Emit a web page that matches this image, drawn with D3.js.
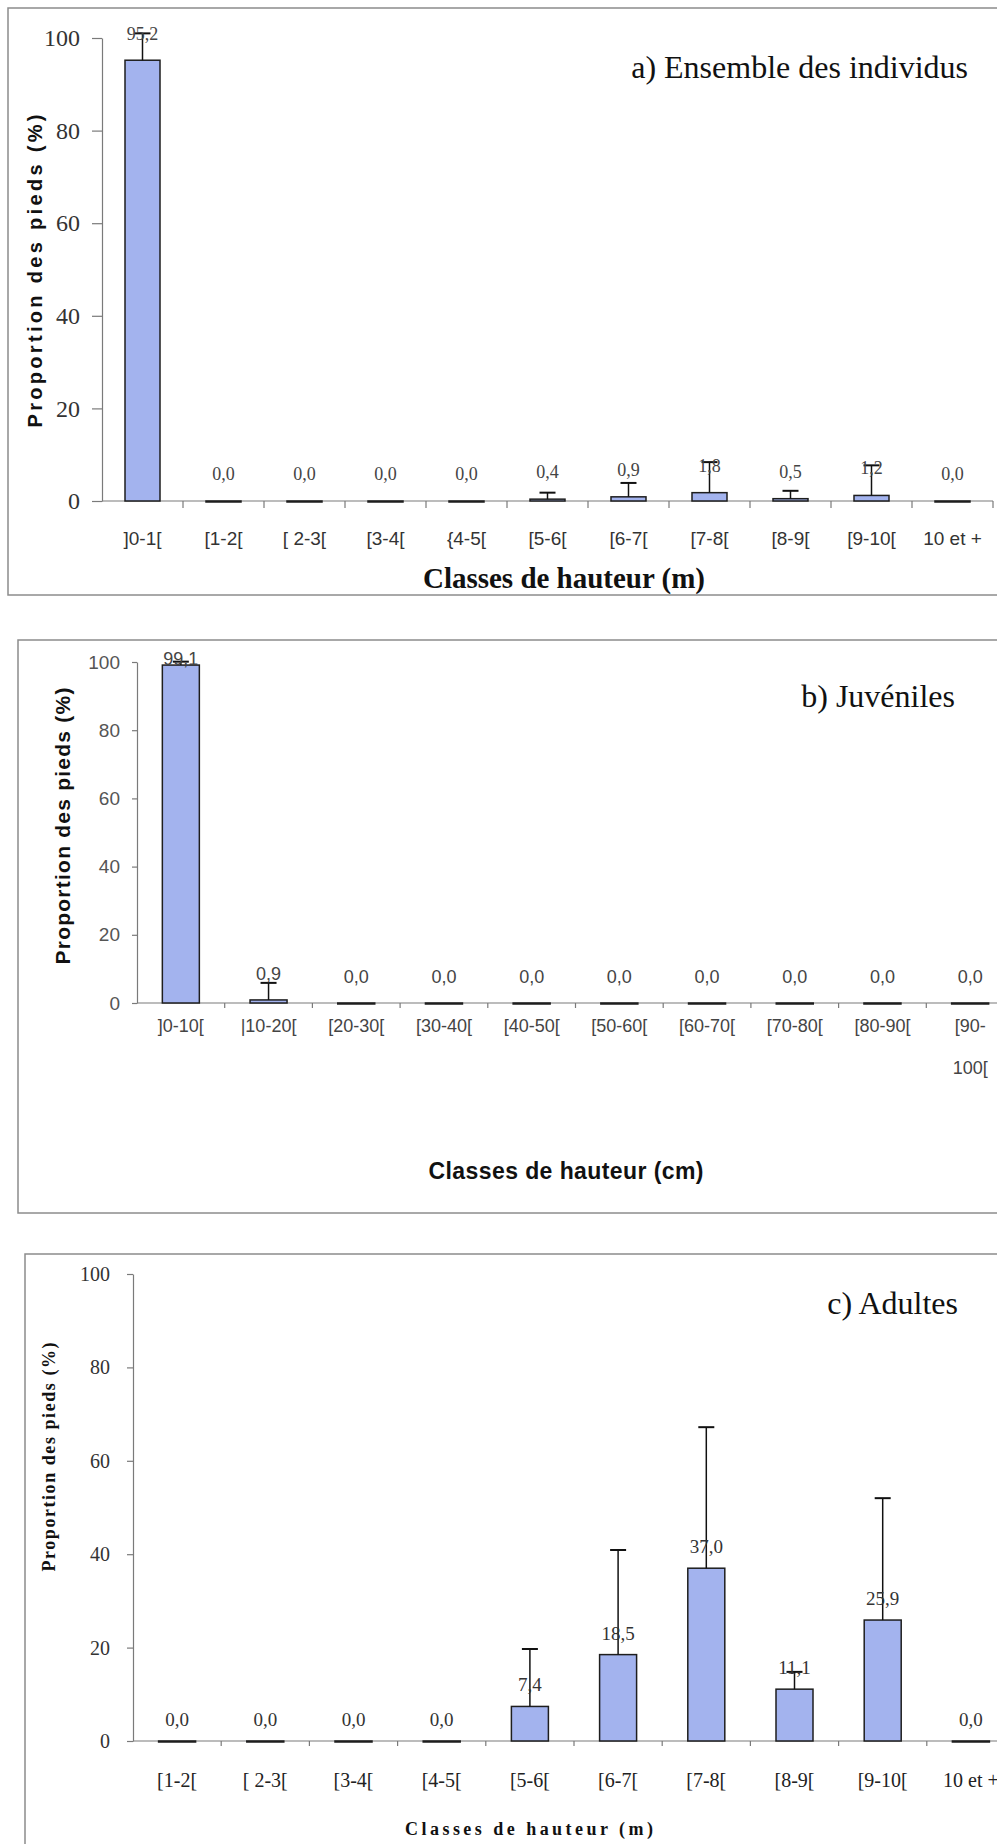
<!DOCTYPE html>
<html>
<head>
<meta charset="utf-8">
<title>Proportion des pieds par classes de hauteur</title>
<script src="https://d3js.org/d3.v7.min.js"></script>
<style>
  body { margin: 0; background: #fff; }
  svg { display: block; }
</style>
</head>
<body>
<div id="chart"></div>
<script>

// a) Ensemble des individus (m)
var classesA = ["]0-1[", "[1-2[", "[ 2-3[", "[3-4[", "{4-5[", "[5-6[", "[6-7[", "[7-8[", "[8-9[", "[9-10[", "10 et +"];
var valeursA = [95.2, 0, 0, 0, 0, 0.4, 0.9, 1.8, 0.5, 1.2, 0];
var erreursA = [5.8, 0, 0, 0, 0, 1.4, 3.0, 6.6, 1.7, 6.5, 0];

// b) Juveniles (cm)
var classesB = ["]0-10[", "|10-20[", "[20-30[", "[30-40[", "[40-50[", "[50-60[", "[60-70[", "[70-80[", "[80-90[", "[90-\n100["];
var valeursB = [99.1, 0.9, 0, 0, 0, 0, 0, 0, 0, 0];
var erreursB = [1.0, 5.0, 0, 0, 0, 0, 0, 0, 0, 0];

// c) Adultes (m)
var classesC = ["[1-2[", "[ 2-3[", "[3-4[", "[4-5[", "[5-6[", "[6-7[", "[7-8[", "[8-9[", "[9-10[", "10 et +"];
var valeursC = [0, 0, 0, 0, 7.4, 18.5, 37.0, 11.1, 25.9, 0];
var erreursC = [0, 0, 0, 0, 12.3, 22.4, 30.2, 3.7, 26.1, 0];

var yTicks = [0, 20, 40, 60, 80, 100];

var SERIF = "'Liberation Serif', 'DejaVu Serif', serif";
var SANS = "'Liberation Sans', Arial, sans-serif";

var svg = d3.select("#chart").append("svg")
  .attr("width", 997).attr("height", 1844);

function fmt(v) { return d3.format(".1f")(v).replace(".", ","); }

function panel(o) {
  var g = svg.append("g");

  // cadre
  g.append("rect")
    .attr("x", o.frame[0]).attr("y", o.frame[1])
    .attr("width", 1100).attr("height", o.frame[2] - o.frame[1])
    .attr("fill", "none").attr("stroke", "#8c8c8c").attr("stroke-width", 1.5);

  var x = d3.scaleBand().domain(o.cats).range([o.x0, o.x1]);
  var y = d3.scaleLinear().domain([0, 100]).range([o.y0, o.y100]);
  var bw = x.bandwidth();

  // axe y
  var ya = g.append("g").attr("transform", "translate(" + o.x0 + ",0)")
    .call(d3.axisLeft(y).tickValues(yTicks).tickSize(o.tick).tickSizeOuter(0).tickPadding(o.pad));
  ya.select(".domain").attr("stroke", "#7a7a7a").attr("stroke-width", 1.2);
  ya.selectAll(".tick line").attr("stroke", "#7a7a7a").attr("stroke-width", 1.2);
  ya.selectAll(".tick text")
    .attr("font-family", o.tickFont).attr("font-size", o.tickFs).attr("fill", o.tickCol);

  // axe x
  g.append("line")
    .attr("x1", o.x0).attr("x2", o.x1).attr("y1", y(0)).attr("y2", y(0))
    .attr("stroke", "#7a7a7a").attr("stroke-width", 1.2);
  g.selectAll(".xt").data(o.cats).join("line")
    .attr("x1", function(d) { return x(d) + bw; }).attr("x2", function(d) { return x(d) + bw; })
    .attr("y1", y(0)).attr("y2", y(0) + o.xtick)
    .attr("stroke", "#7a7a7a").attr("stroke-width", 1.2);

  g.selectAll(".xl").data(o.cats).join("text")
    .attr("text-anchor", "middle")
    .attr("font-family", o.labFont).attr("font-size", o.labFs).attr("fill", o.labCol)
    .each(function(d) {
      var t = d3.select(this);
      d.split("\n").forEach(function(s, i) {
        t.append("tspan").attr("x", x(d) + bw / 2).attr("y", o.labY + i * o.lineH).text(s);
      });
    });

  // barres
  g.selectAll(".bar").data(o.vals).join("rect")
    .attr("x", function(d, i) { return x(o.cats[i]) + (bw - o.barW) / 2; })
    .attr("y", function(d) { return y(d); })
    .attr("width", o.barW)
    .attr("height", function(d) { return Math.max(y(0) - y(d), 1); })
    .attr("fill", "#a3b3ee").attr("stroke", "#1e1e1e").attr("stroke-width", 1.5);

  // barres d'erreur
  o.vals.forEach(function(v, i) {
    var e = o.errs[i];
    if (!e) return;
    var cx = x(o.cats[i]) + bw / 2;
    g.append("line").attr("x1", cx).attr("x2", cx).attr("y1", y(v)).attr("y2", y(v + e))
      .attr("stroke", "#111").attr("stroke-width", 1.5);
    g.append("line").attr("x1", cx - 8).attr("x2", cx + 8).attr("y1", y(v + e)).attr("y2", y(v + e))
      .attr("stroke", "#111").attr("stroke-width", 2);
  });

  // etiquettes de valeurs
  g.selectAll(".vl").data(o.vals).join("text")
    .attr("x", function(d, i) { return x(o.cats[i]) + bw / 2; })
    .attr("y", function(d) { return Math.max(y(d) - o.valOff, o.valMin); })
    .attr("text-anchor", "middle")
    .attr("font-family", o.valFont).attr("font-size", o.valFs).attr("fill", o.valCol)
    .text(fmt);

  // titre du panneau
  g.append("text").attr("x", o.title[1]).attr("y", o.title[2])
    .attr("text-anchor", "end").attr("font-family", SERIF).attr("font-size", 32).attr("fill", "#111")
    .text(o.title[0]);

  // titres des axes
  g.append("text")
    .attr("transform", "translate(" + o.yt[0] + "," + o.yt[1] + ") rotate(-90)")
    .attr("text-anchor", "middle").attr("font-family", o.ytFont).attr("font-weight", "bold")
    .attr("font-size", o.ytFs).attr("fill", "#111")
    .attr("textLength", o.yt[2]).attr("lengthAdjust", "spacing")
    .text("Proportion des pieds (%)");

  g.append("text")
    .attr("x", o.xt[1]).attr("y", o.xt[2])
    .attr("text-anchor", "middle").attr("font-family", o.xtFont).attr("font-weight", "bold")
    .attr("font-size", o.xtFs).attr("fill", "#111")
    .attr("textLength", o.xt[3]).attr("lengthAdjust", "spacing")
    .text(o.xt[0]);
}

panel({
  cats: classesA, vals: valeursA, errs: erreursA,
  frame: [8, 8, 595],
  x0: 102, x1: 993, y0: 501, y100: 38,
  tick: 10, pad: 12, xtick: 7,
  tickFont: SERIF, tickFs: 24, tickCol: "#333",
  labFont: SANS, labFs: 19, labCol: "#333", labY: 545, lineH: 22,
  barW: 35,
  valFont: SERIF, valFs: 18, valCol: "#444", valOff: 21, valMin: 40,
  title: ["a) Ensemble des individus", 968, 78],
  ytFont: SANS, ytFs: 20, yt: [42, 271, 313],
  xtFont: SERIF, xtFs: 29, xt: ["Classes de hauteur (m)", 564, 588, 282]
});

panel({
  cats: classesB, vals: valeursB, errs: erreursB,
  frame: [18, 640, 1213],
  x0: 137, x1: 1014, y0: 1003, y100: 662,
  tick: 5, pad: 12, xtick: 5,
  tickFont: SANS, tickFs: 19, tickCol: "#555",
  labFont: SANS, labFs: 18, labCol: "#444", labY: 1032, lineH: 42,
  barW: 37,
  valFont: SANS, valFs: 18, valCol: "#444", valOff: 20, valMin: 665,
  title: ["b) Juvéniles", 955, 707],
  ytFont: SANS, ytFs: 21, yt: [70, 826, 277],
  xtFont: SANS, xtFs: 23, xt: ["Classes de hauteur (cm)", 566, 1179, 275]
});

panel({
  cats: classesC, vals: valeursC, errs: erreursC,
  frame: [25, 1254, 1860],
  x0: 133, x1: 1015, y0: 1741, y100: 1274,
  tick: 6, pad: 17, xtick: 5,
  tickFont: SERIF, tickFs: 20, tickCol: "#333",
  labFont: SERIF, labFs: 20, labCol: "#222", labY: 1787, lineH: 22,
  barW: 37,
  valFont: SERIF, valFs: 19, valCol: "#333", valOff: 15, valMin: 1280,
  title: ["c) Adultes", 958, 1314],
  ytFont: SERIF, ytFs: 18, yt: [55, 1457, 229],
  xtFont: SERIF, xtFs: 18, xt: ["Classes de hauteur (m)", 529, 1835, 248]
});

</script>
</body>
</html>
